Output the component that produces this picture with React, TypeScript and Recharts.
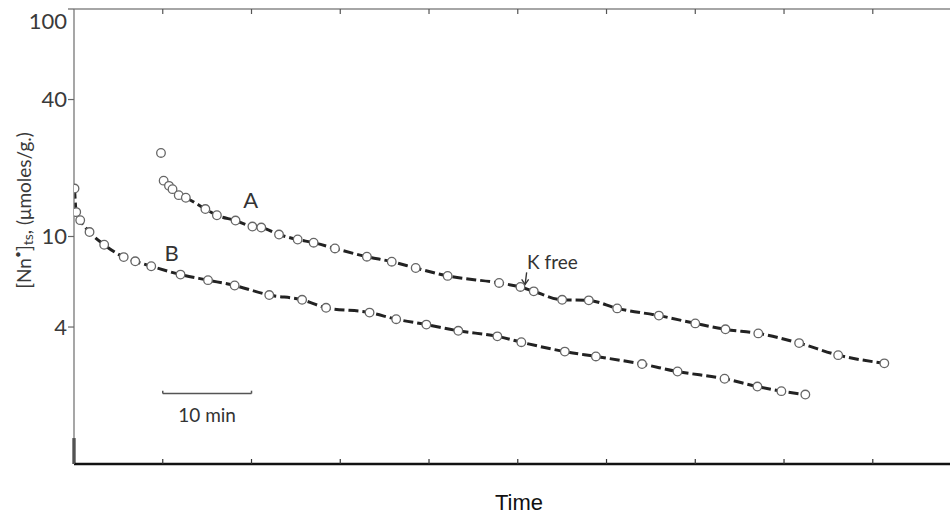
import React from "react"
import {
  ComposedChart,
  Line,
  XAxis,
  YAxis,
  ReferenceLine,
  ReferenceDot,
} from "recharts"

// curve A (the first reading sits above the fitted line and is not joined to it)
const aFirstTime = [9.8]
const aFirstConc = [23.3]
const aTime = [
  10.1, 10.7, 11.1, 11.8, 12.6, 14.8, 16.1, 18.2, 20.1, 21.1, 23.1, 25.2, 27.0, 29.4, 33.0, 35.8,
  38.5, 42.1, 47.9, 50.3, 51.8, 55.0, 58.0, 61.2, 65.9, 70.0, 73.4, 77.1, 81.7, 86.1, 91.3,
]
const aConc = [
  17.6, 16.7, 16.15, 15.2, 14.8, 13.2, 12.4, 11.75, 11.06, 10.95, 10.2, 9.7, 9.39, 8.86, 8.15, 7.75,
  7.27, 6.71, 6.25, 6.0, 5.74, 5.27, 5.24, 4.83, 4.49, 4.15, 3.91, 3.75, 3.4, 3.01, 2.77,
]

// curve B
const bTime = [
  0.06, 0.25, 0.7, 1.75, 3.4, 5.6, 6.9, 8.7, 12.0, 15.1, 18.1, 22.0, 25.7, 28.4, 33.3, 36.3, 39.7,
  43.3, 47.7, 50.4, 55.3, 58.8, 64.0, 68.0, 73.3, 77.0, 79.7, 82.4,
]
const bConc = [
  16.25, 12.8, 11.8, 10.46, 9.2, 8.12, 7.78, 7.4, 6.8, 6.43, 6.09, 5.53, 5.27, 4.86, 4.63, 4.33, 4.1,
  3.85, 3.64, 3.43, 3.12, 2.97, 2.75, 2.55, 2.37, 2.19, 2.09, 2.02,
]

const timeTicks = [10, 20, 30, 40, 50, 60, 70, 80, 90]
const concTicks = [4, 10, 40, 100]

const toRows = (t: number[], c: number[]) => t.map((x, i) => ({ t: x, c: c[i] }))

const aFirstData = toRows(aFirstTime, aFirstConc)
const aData = toRows(aTime, aConc)
const bData = toRows(bTime, bConc)

const tickFont = "Lato, 'DejaVu Sans', sans-serif"

const BottomTick = (props: any) => {
  const { x, y } = props
  return <line x1={x} y1={y} x2={x} y2={y - 5} stroke="#333" strokeWidth={1.2} />
}

const TopTick = (props: any) => {
  const { x, y } = props
  return <line x1={x} y1={y} x2={x} y2={y + 5} stroke="#555" strokeWidth={1.2} />
}

const ConcTick = (props: any) => {
  const { x, y, payload } = props
  const dy = payload.value === 100 ? 12 : 0
  return (
    <text x={x} y={y + dy} dy="0.36em" textAnchor="end" fontSize={22} fill="#3a3a3a" fontFamily={tickFont}>
      {payload.value}
    </text>
  )
}

const YTitle = (props: any) => {
  const vb = props.viewBox
  const cx = vb.x + 23
  const cy = vb.y + vb.height / 2 - 26
  return (
    <text
      x={cx}
      y={cy}
      transform={`rotate(-90 ${cx} ${cy})`}
      textAnchor="middle"
      dominantBaseline="central"
      fontSize={19}
      fill="#3a3a3a"
      fontFamily={tickFont}
    >
      [Nn<tspan dy={-6} fontSize={12}>•</tspan>
      <tspan dy={6}>]</tspan>
      <tspan dy={4} fontSize={14}>ts</tspan>
      <tspan dy={-4}>, (μmoles/g.)</tspan>
    </text>
  )
}

const textShape = (label: string, size: number) => (p: any) =>
  (
    <text x={p.cx} y={p.cy} textAnchor="middle" dominantBaseline="central" fontSize={size} fill="#333" fontFamily={tickFont}>
      {label}
    </text>
  )

const arrowShape = (p: any) => (
  <g stroke="#333" strokeWidth={1.3} fill="none">
    <path d={`M${p.cx},${p.cy} L${p.cx - 1.5},${p.cy + 12}`} />
    <path d={`M${p.cx - 5},${p.cy + 7} L${p.cx - 1.5},${p.cy + 12} L${p.cx + 2},${p.cy + 7}`} />
  </g>
)

const dotStyle = { r: 4.3, stroke: "#666", strokeWidth: 1.3, fill: "#fff", strokeDasharray: "none" }

export default function App() {
  return (
    <div style={{ position: "absolute", left: 0, top: 0, width: 950, height: 518, background: "#fff" }}>
      <ComposedChart width={950} height={518} margin={{ top: 0, right: 0, bottom: 0, left: 0 }}>
        <XAxis
          xAxisId="b"
          type="number"
          dataKey="t"
          domain={[0, 98.7]}
          ticks={timeTicks}
          allowDataOverflow
          height={54}
          tickSize={0}
          tickMargin={0}
          tickLine={false}
          tick={<BottomTick />}
          axisLine={{ stroke: "#111", strokeWidth: 2.5 }}
          label={{
            value: "Time",
            position: "insideBottom",
            offset: 8,
            dx: 7,
            fontSize: 22,
            fill: "#111",
            fontFamily: "'Liberation Sans', Arial, sans-serif",
          }}
        />
        <XAxis
          xAxisId="t"
          orientation="top"
          type="number"
          dataKey="t"
          domain={[0, 98.7]}
          ticks={timeTicks}
          allowDataOverflow
          height={9}
          tickSize={0}
          tickMargin={0}
          tickLine={false}
          tick={<TopTick />}
          axisLine={{ stroke: "#888", strokeWidth: 1.5 }}
        />
        <YAxis
          yAxisId="c"
          type="number"
          dataKey="c"
          scale="log"
          domain={[1, 100]}
          ticks={concTicks}
          allowDataOverflow
          width={74}
          tickSize={6}
          tickMargin={1}
          tick={<ConcTick />}
          tickLine={{ stroke: "#666", strokeWidth: 1.2 }}
          axisLine={{ stroke: "#777", strokeWidth: 1.3 }}
          label={<YTitle />}
        />

        <ReferenceLine
          xAxisId="b"
          yAxisId="c"
          segment={[{ x: 0, y: 1 }, { x: 0, y: 1.3 }]}
          stroke="#111"
          strokeWidth={3}
          ifOverflow="visible"
        />

        <Line
          xAxisId="b"
          yAxisId="c"
          data={bData}
          dataKey="c"
          type="monotone"
          stroke="#222"
          strokeWidth={3}
          strokeDasharray="10 4"
          dot={dotStyle}
          isAnimationActive={false}
        />
        <Line
          xAxisId="b"
          yAxisId="c"
          data={aData}
          dataKey="c"
          type="monotone"
          stroke="#222"
          strokeWidth={3}
          strokeDasharray="10 4"
          dot={dotStyle}
          isAnimationActive={false}
        />
        <Line
          xAxisId="b"
          yAxisId="c"
          data={aFirstData}
          dataKey="c"
          stroke="none"
          dot={dotStyle}
          isAnimationActive={false}
        />

        {/* 10 min scale bar */}
        <ReferenceLine xAxisId="b" yAxisId="c" segment={[{ x: 10, y: 2.04 }, { x: 20, y: 2.04 }]} stroke="#555" strokeWidth={1.5} />
        <ReferenceLine xAxisId="b" yAxisId="c" segment={[{ x: 10, y: 2.04 }, { x: 10, y: 2.1 }]} stroke="#555" strokeWidth={1.5} />
        <ReferenceLine xAxisId="b" yAxisId="c" segment={[{ x: 20, y: 2.04 }, { x: 20, y: 2.1 }]} stroke="#555" strokeWidth={1.5} />
        <ReferenceDot xAxisId="b" yAxisId="c" x={15} y={1.65} r={0} shape={textShape("10 min", 19)} />

        <ReferenceDot xAxisId="b" yAxisId="c" x={19.9} y={14.5} r={0} shape={textShape("A", 22)} />
        <ReferenceDot xAxisId="b" yAxisId="c" x={11.0} y={8.5} r={0} shape={textShape("B", 22)} />
        <ReferenceDot xAxisId="b" yAxisId="c" x={53.9} y={7.78} r={0} shape={textShape("K free", 19)} />
        <ReferenceDot xAxisId="b" yAxisId="c" x={51.0} y={6.96} r={0} shape={arrowShape} />
      </ComposedChart>
    </div>
  )
}
